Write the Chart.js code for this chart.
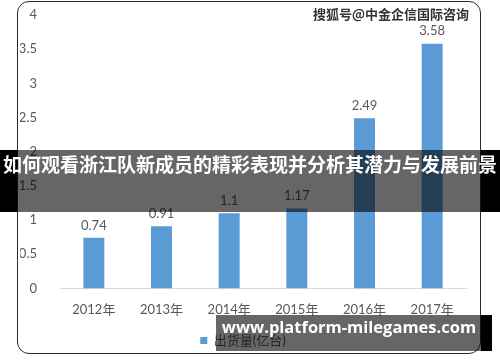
<!DOCTYPE html>
<html>
<head>
<meta charset="utf-8">
<script src="https://cdn.jsdelivr.net/npm/chart.js@4.4.1/dist/chart.umd.min.js"></script>
<style>
  body { margin: 0; background: #fff; }
  #wrap { position: relative; width: 500px; height: 362px; overflow: hidden; background: #fff; }
  #frame { position: absolute; left: 17px; top: 1px; width: 462px; height: 351px; border: 1.5px solid #2a2a2a; border-radius: 12px; pointer-events: none; }
  .blk { position: absolute; background: #000; }
  .shade { position: absolute; background: rgba(0,0,0,0.6); }
  #title { position: absolute; left: 0; top: 150px; width: 500px; height: 62px; line-height: 62px; text-align: center; color: #fff; font: bold 19px "Noto Sans CJK SC", sans-serif; white-space: nowrap; }
  #site { position: absolute; left: 216px; top: 315px; width: 266px; height: 36px; line-height: 36px; text-align: center; color: #fff; font: bold 16.5px "Open Sans", sans-serif; white-space: nowrap; }
  #mark { position: absolute; left: 313px; top: 4px; color: #333; font: bold 13px "Noto Sans CJK SC", sans-serif; text-shadow: 0 0 2px #fff; white-space: nowrap; }
</style>
</head>
<body>
<div id="wrap">
  <canvas id="chart" width="500" height="362"></canvas>
  <div id="frame"></div>
  <div id="mark">搜狐号@中金企信国际咨询</div>
  <div class="blk" style="left:0;top:150px;width:17px;height:62px"></div>
  <div class="shade" style="left:17px;top:150px;width:464px;height:62px"></div>
  <div class="blk" style="left:481px;top:150px;width:19px;height:62px"></div>
  <div id="title">如何观看浙江队新成员的精彩表现并分析其潜力与发展前景</div>
  <div class="shade" style="left:216px;top:315px;width:265px;height:36px"></div>
  <div class="blk" style="left:481px;top:315px;width:11px;height:36px"></div>
  <div id="site">www.platform-milegames.com</div>
</div>
<script>
var years = ['2012年', '2013年', '2014年', '2015年', '2016年', '2017年'];
var shipments = [0.74, 0.91, 1.1, 1.17, 2.49, 3.58];
var seriesName = '出货量(亿台)';

var textColor = '#595959';
var fontFamily = 'Lato, "Noto Sans CJK SC", sans-serif';

// value labels above each bar
var barLabels = {
  id: 'barLabels',
  afterDatasetsDraw: function(chart) {
    var ctx = chart.ctx;
    var meta = chart.getDatasetMeta(0);
    ctx.save();
    ctx.fillStyle = textColor;
    ctx.font = '13px ' + fontFamily;
    ctx.textAlign = 'center';
    ctx.textBaseline = 'bottom';
    meta.data.forEach(function(bar, i) {
      ctx.fillText(shipments[i].toString(), bar.x, bar.y - 6);
    });
    ctx.restore();
  }
};

var ctx = document.getElementById('chart').getContext('2d');
var myChart = new Chart(ctx, {
  type: 'bar',
  data: {
    labels: years,
    datasets: [{
      label: seriesName,
      data: shipments,
      backgroundColor: '#5b9bd5',
      borderWidth: 0,
      barPercentage: 0.31,
      categoryPercentage: 1
    }]
  },
  options: {
    responsive: false,
    animation: false,
    layout: { padding: { left: 20, right: 34, top: 1, bottom: 5 } },
    plugins: {
      tooltip: { enabled: false },
      legend: {
        position: 'bottom',
        labels: {
          boxWidth: 7,
          boxHeight: 7,
          padding: 10,
          color: textColor,
          font: { size: 13, family: fontFamily }
        }
      }
    },
    scales: {
      y: {
        min: 0,
        max: 4,
        ticks: {
          stepSize: 0.5,
          padding: 15,
          color: textColor,
          font: { size: 13, family: fontFamily },
          callback: function(v) { return v.toString(); }
        },
        grid: { display: false },
        border: { display: false },
        afterFit: function(scale) {
          scale.width = 40;
          scale.paddingTop = 15;
        }
      },
      x: {
        ticks: { padding: 6, color: textColor, font: { size: 13, family: fontFamily } },
        grid: { display: false },
        border: { color: '#d9d9d9', width: 1 }
      }
    }
  },
  plugins: [barLabels]
});
</script>
</body>
</html>
